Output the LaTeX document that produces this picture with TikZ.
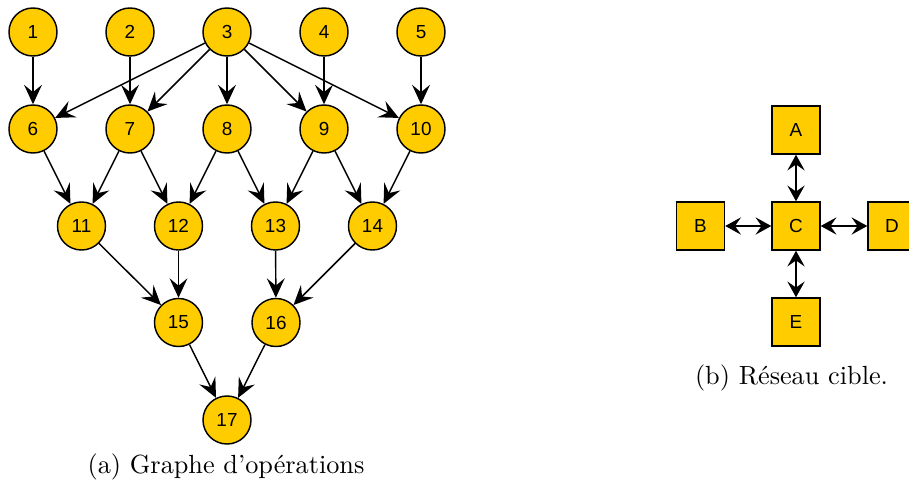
\documentclass[tikz,border=0pt]{standalone}
\usepackage{fontspec}
\usepackage{xcolor}
\usepackage{tikz}
\usetikzlibrary{arrows.meta}
\newfontfamily\nodefont{Liberation Sans}
\definecolor{opyellow}{HTML}{FFCC00}
\tikzset{
	opnode/.style={draw, circle, fill=opyellow, line width=0.55pt,
		minimum size=18.3pt, inner sep=0pt, font=\nodefont\fontsize{7.2}{8}\selectfont},
	procnode/.style={draw, rectangle, fill=opyellow, line width=0.55pt,
		minimum size=18.3pt, inner sep=0pt, font=\nodefont\fontsize{7.2}{8}\selectfont},
	arrow/.style={-{Stealth[length=7.4pt, width=6.8pt, inset=2.8pt]}, line width=0.55pt},
	biarrow/.style={{Stealth[length=6pt, width=6.6pt, inset=2.3pt]}-{Stealth[length=6pt, width=6.6pt, inset=2.3pt]}, line width=0.55pt},
	caption/.style={font=\normalsize}
}
\begin{document}
\begin{tikzpicture}[x=0.381pt, y=-0.381pt]
	\useasboundingbox (0,0) rectangle (909,490);
	
	%% -- Graphe d'operations: row 1
	\node[opnode] (o1) at (33,32) {1};
	\node[opnode] (o2) at (130,32) {2};
	\node[opnode] (o3) at (227,32) {3};
	\node[opnode] (o4) at (324,32) {4};
	\node[opnode] (o5) at (421,32) {5};
	
	%% -- row 2
	\node[opnode] (o6) at (33,129) {6};
	\node[opnode] (o7) at (130,129) {7};
	\node[opnode] (o8) at (227,129) {8};
	\node[opnode] (o9) at (324,129) {9};
	\node[opnode] (o10) at (421,129) {10};
	
	%% -- row 3
	\node[opnode] (o11) at (81.5,226) {11};
	\node[opnode] (o12) at (178.5,226) {12};
	\node[opnode] (o13) at (275.5,226) {13};
	\node[opnode] (o14) at (372.5,226) {14};
	
	%% -- rows 4 and 5
	\node[opnode] (o15) at (178.5,322.5) {15};
	\node[opnode] (o16) at (276,322.5) {16};
	\node[opnode] (o17) at (227,420) {17};
	
	%% -- Dependencies
	\foreach \a/\b in {1/6, 2/7, 3/6, 3/7, 3/8, 3/9, 3/10, 4/9, 5/10,
		6/11, 7/11, 7/12, 8/12, 8/13, 9/13, 9/14, 10/14,
		11/15, 12/15, 13/16, 14/16, 15/17, 16/17}
	\draw[arrow] (o\a) -- (o\b);
	
	\node[caption] (capa) at (226,467) {(a) Graphe d'opérations};
	
	%% -- Reseau cible
	\node[procnode] (pA) at (796,130) {A};
	\node[procnode] (pB) at (700.5,226) {B};
	\node[procnode] (pC) at (796,226) {C};
	\node[procnode] (pD) at (892,226) {D};
	\node[procnode] (pE) at (796,322) {E};
	
	\draw[biarrow] (pA) -- (pC);
	\draw[biarrow] (pB) -- (pC);
	\draw[biarrow] (pC) -- (pD);
	\draw[biarrow] (pC) -- (pE);
	
	\node[caption] (capb) at (791.5,378) {(b) Réseau cible.};
	
\end{tikzpicture}
\end{document}
